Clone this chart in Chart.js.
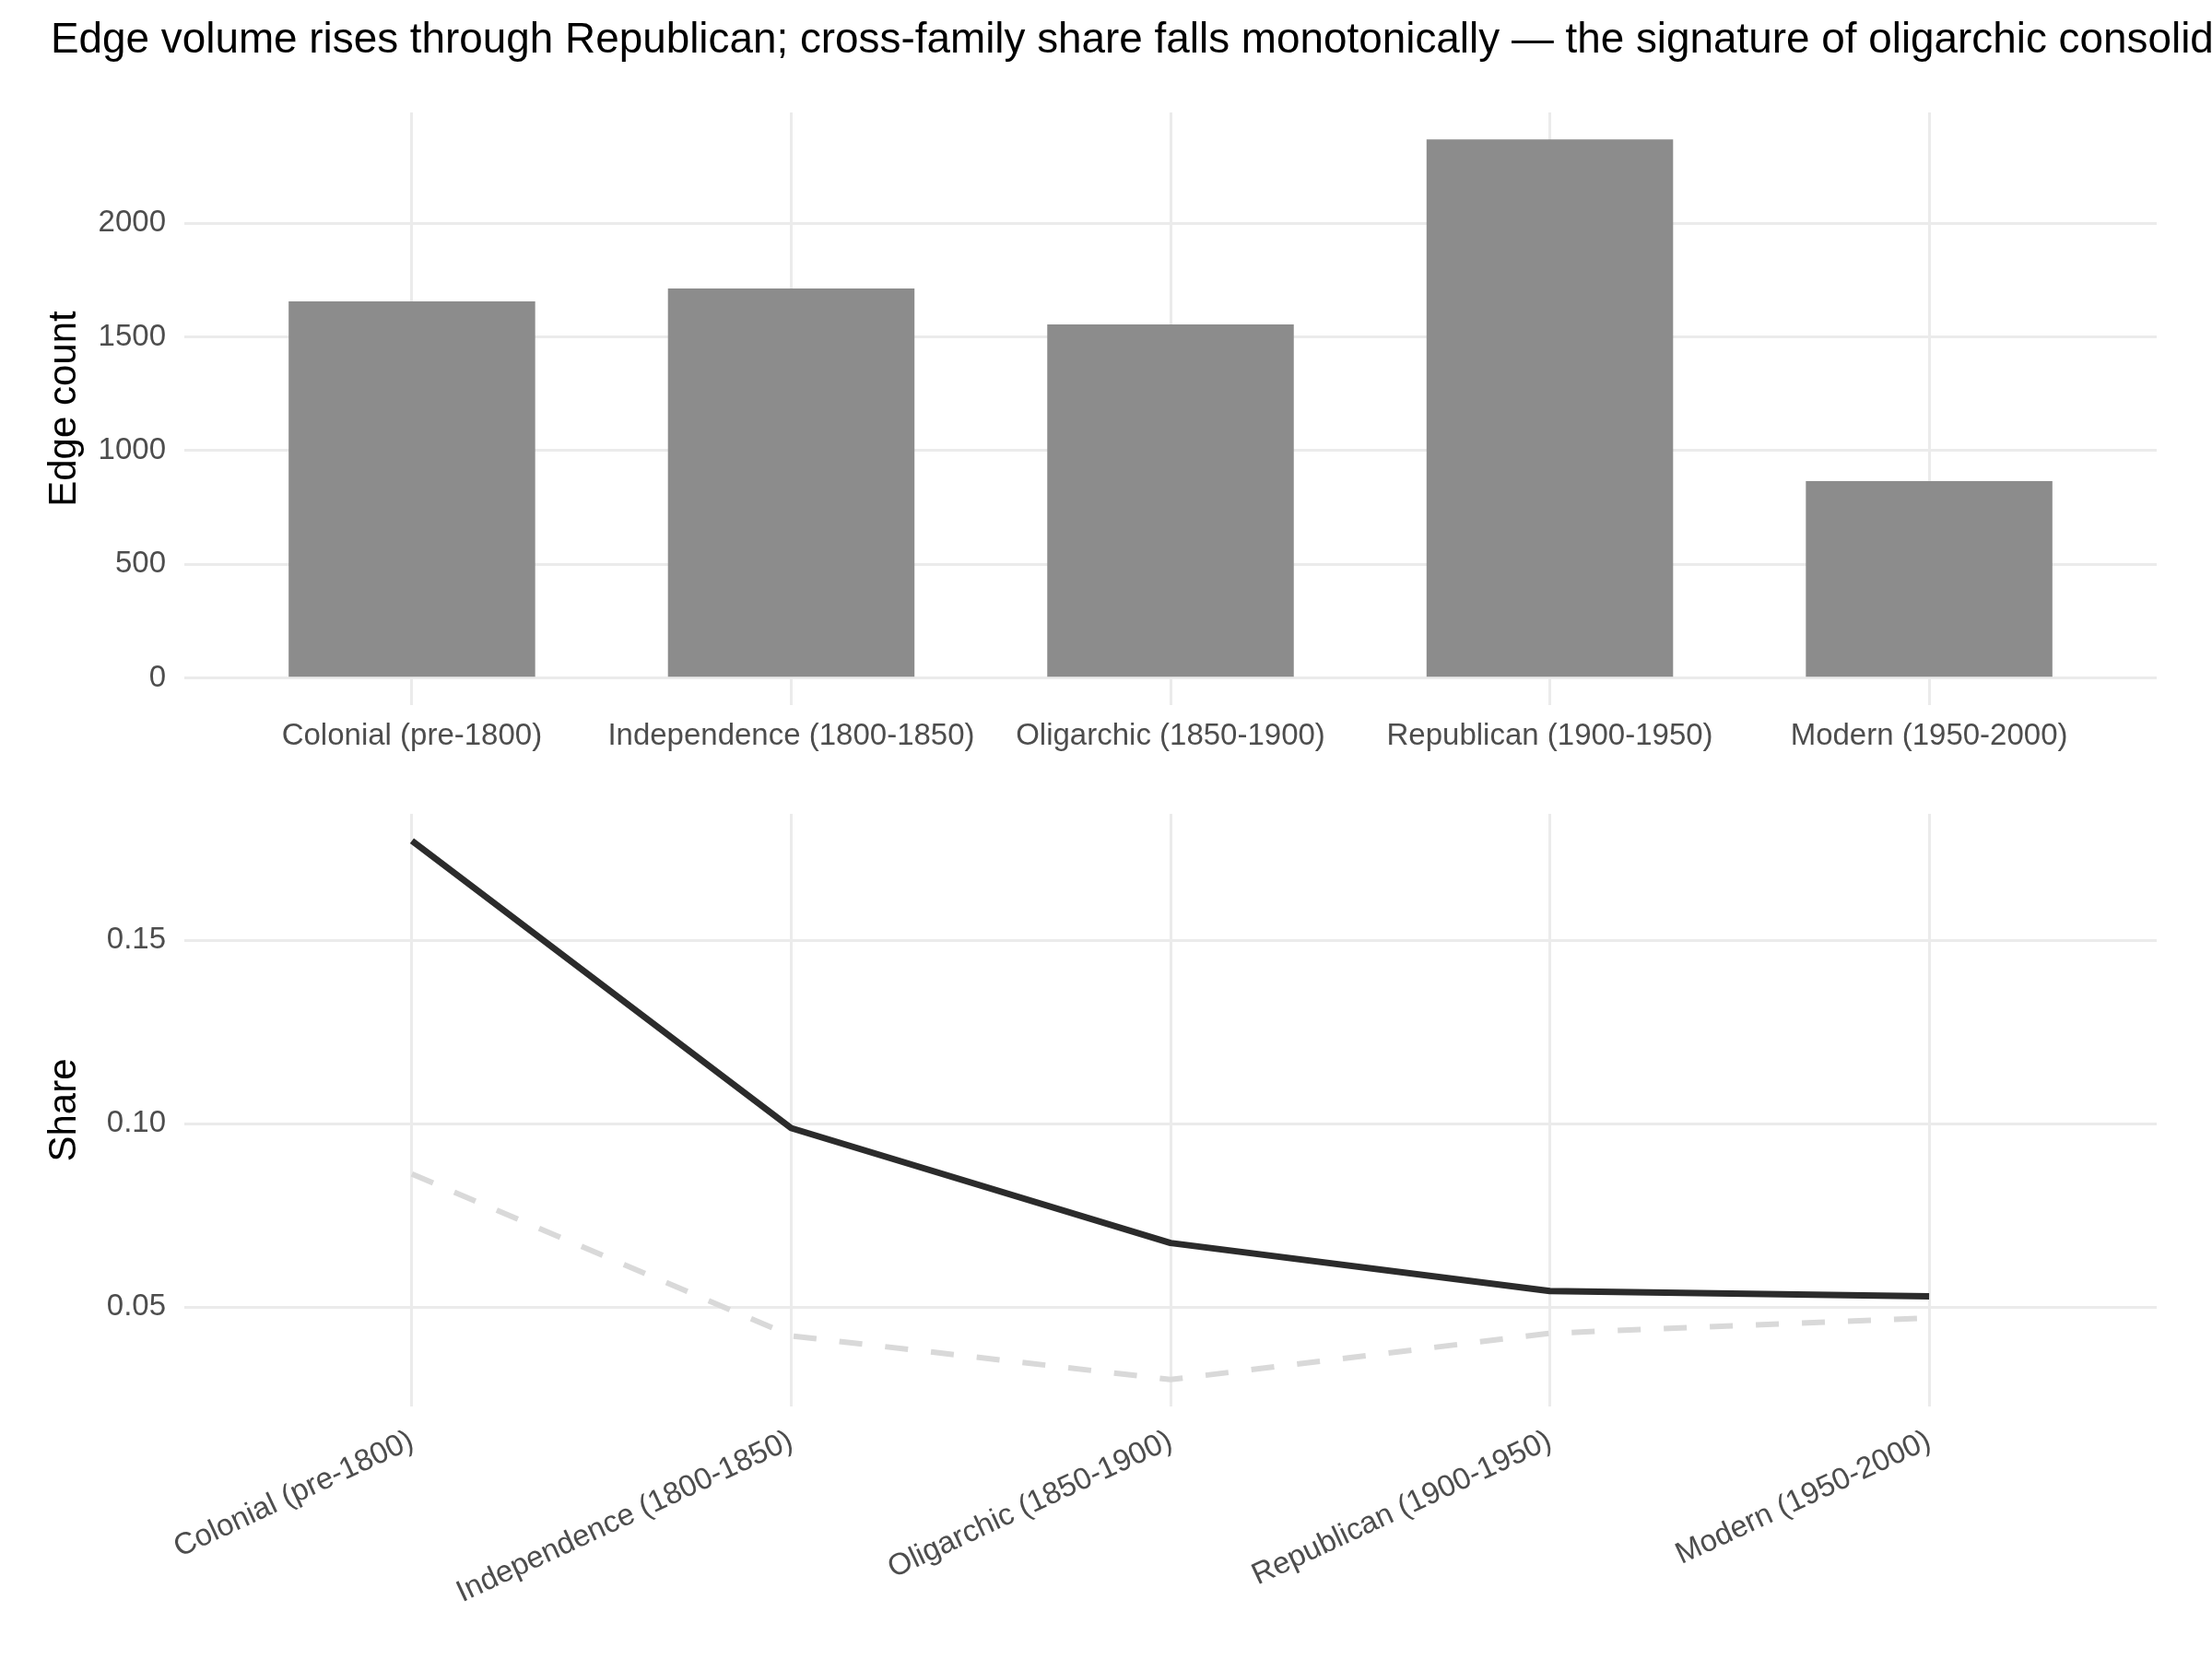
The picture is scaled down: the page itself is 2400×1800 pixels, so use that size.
<!DOCTYPE html>
<html><head><meta charset="utf-8">
<script src="https://cdn.jsdelivr.net/npm/chart.js@4.4.1/dist/chart.umd.min.js"></script>
<style>
html,body{margin:0;padding:0;background:#fff;}
#wrap{position:relative;width:2400px;height:1800px;overflow:hidden;background:#fff;}
#title{position:absolute;left:55px;top:18px;font:45.85px/46px "Liberation Sans",Arial,sans-serif;color:#000;white-space:nowrap;z-index:2;}
canvas{position:absolute;left:0;}
</style></head><body>
<div id="wrap">
<canvas id="c1" width="2400" height="833" style="top:0;width:2400px;height:833px"></canvas>
<canvas id="c2" width="2400" height="967" style="top:833px;width:2400px;height:967px"></canvas>
<div id="title">Edge volume rises through Republican; cross-family share falls monotonically — the signature of oligarchic consolidation</div>
</div>
<script>
const periods = ["Colonial (pre-1800)", "Independence (1800-1850)", "Oligarchic (1850-1900)", "Republican (1900-1950)", "Modern (1950-2000)"];
const edgeCounts = [1656, 1713, 1555, 2368, 866];
const shareSolid = [0.1771, 0.0988, 0.0675, 0.0544, 0.0530];
const shareDashed = [0.0863, 0.0422, 0.0303, 0.0429, 0.0471];
const countTicks = [0, 500, 1000, 1500, 2000];
const shareTicks = [0.05, 0.10, 0.15];

const FONT = "'Liberation Sans', Arial, sans-serif";
const GRID = '#ebebeb';
const TICKC = '#4d4d4d';

function expand(vals, incZero) {
  let lo = Math.min(...vals), hi = Math.max(...vals);
  if (incZero) lo = Math.min(lo, 0);
  const r = hi - lo;
  return [lo - 0.05 * r, hi + 0.05 * r];
}

function xScale(rotation, padding, height) {
  return {
    type: 'linear', min: -0.6, max: 4.6, offset: false, bounds: 'data',
    grid: { color: GRID, lineWidth: 3, drawTicks: false, offset: false },
    border: { display: false },
    afterBuildTicks: s => { s.ticks = periods.map((_, i) => ({ value: i })); },
    afterFit: s => { s.height = height; },
    ticks: {
      autoSkip: false, minRotation: rotation, maxRotation: rotation, padding: padding,
      color: TICKC, font: { family: FONT, size: 33 },
      callback: v => periods[v]
    }
  };
}

function yScale(lim, ticks, fmt, title, titlePad) {
  return {
    type: 'linear', min: lim[0], max: lim[1],
    grid: { color: GRID, lineWidth: 3, drawTicks: false },
    border: { display: false },
    afterBuildTicks: s => { s.ticks = ticks.map(v => ({ value: v })); },
    afterFit: s => { s.width = 200; },
    ticks: { padding: 20, color: TICKC, font: { family: FONT, size: 33 }, callback: fmt },
    title: { display: true, text: title, color: '#000', font: { family: FONT, size: 42 }, padding: { top: titlePad, bottom: 0 } }
  };
}

const common = {
  responsive: false, animation: false, devicePixelRatio: 1,
  plugins: { legend: { display: false }, tooltip: { enabled: false }, title: { display: false } }
};

new Chart(document.getElementById('c1'), {
  type: 'bar',
  data: {
    datasets: [{
      data: edgeCounts.map((v, i) => ({ x: i, y: v })),
      backgroundColor: '#8c8c8c', borderWidth: 0,
      barPercentage: 0.65, categoryPercentage: 1.0
    }]
  },
  options: Object.assign({}, common, {
    layout: { padding: { top: 122, right: 60, left: 0, bottom: 0 } },
    scales: {
      x: xScale(0, 14, 68),
      y: yScale(expand(edgeCounts, true), countTicks, v => String(v), 'Edge count', 45)
    }
  })
});

new Chart(document.getElementById('c2'), {
  type: 'line',
  data: {
    datasets: [
      {
        data: shareDashed.map((v, i) => ({ x: i, y: v })),
        borderColor: '#d9d9d9', borderWidth: 6, borderDash: [25, 25],
        pointRadius: 0, tension: 0, fill: false, borderJoinStyle: 'round'
      },
      {
        data: shareSolid.map((v, i) => ({ x: i, y: v })),
        borderColor: '#2b2b2b', borderWidth: 7,
        pointRadius: 0, tension: 0, fill: false, borderJoinStyle: 'round'
      }
    ]
  },
  options: Object.assign({}, common, {
    layout: { padding: { top: 50, right: 60, left: 0, bottom: 0 } },
    scales: {
      x: xScale(25, 18, 274),
      y: yScale(expand(shareSolid.concat(shareDashed), false), shareTicks, v => v.toFixed(2), 'Share', 45)
    }
  })
});
</script>
</body></html>
